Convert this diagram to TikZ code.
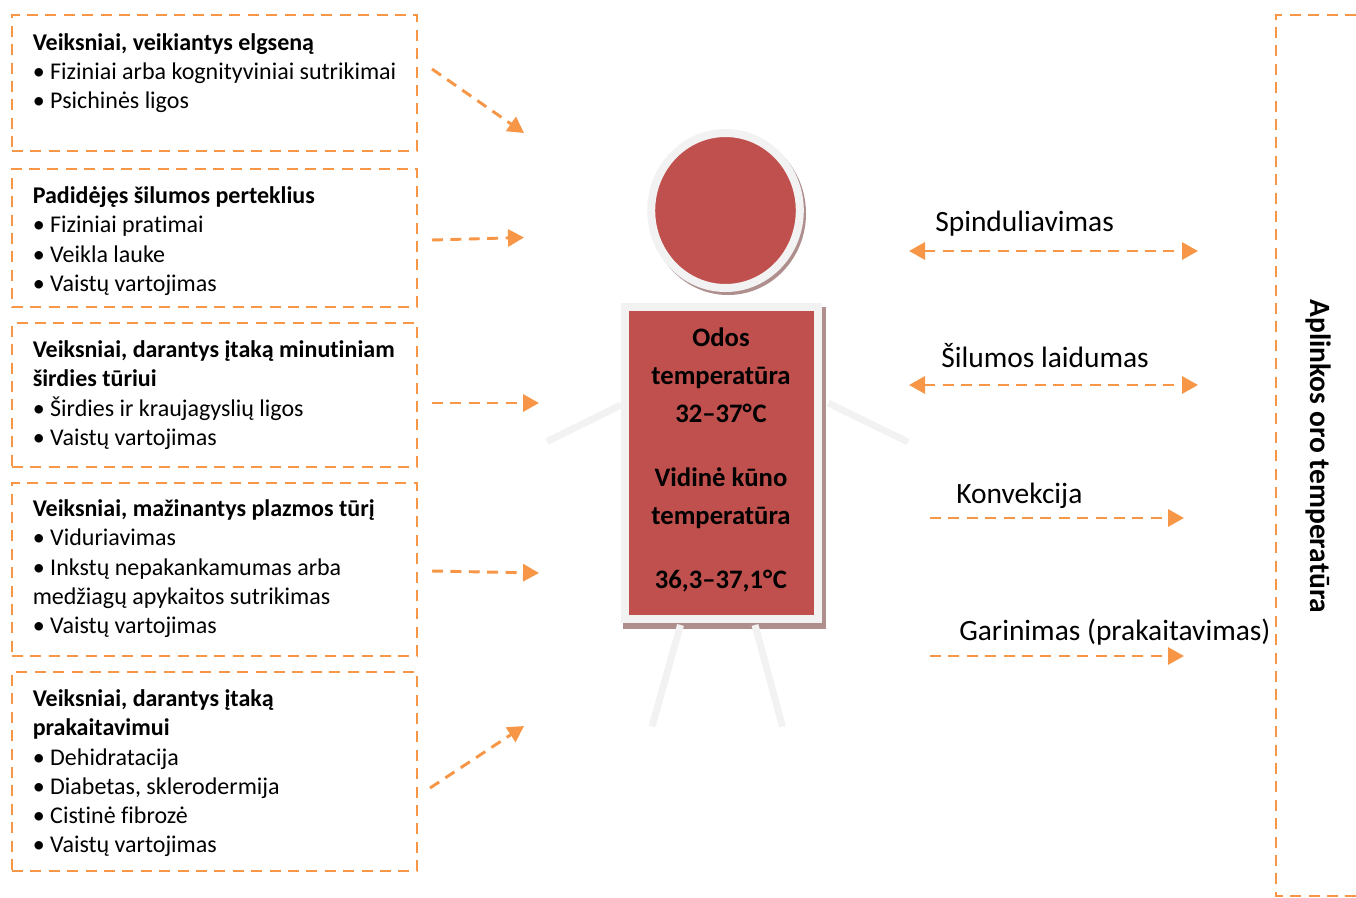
\documentclass[tikz,border=0pt]{standalone}
\usepackage{fontspec}
\setmainfont[RawFeature={-liga;-clig}]{Carlito}
\usetikzlibrary{arrows.meta}
\definecolor{linija}{HTML}{F79646}
\definecolor{kunas}{HTML}{C0504D}
\definecolor{krastas}{HTML}{F2F2F2}
\definecolor{seselis}{HTML}{AE8F8E}
\newcommand{\pt}[1]{\makebox[13.1pt][l]{•}#1}
\newcommand{\laipsn}{°\kern0.6pt C}
\tikzset{
    dashline/.style={draw=linija, line width=2.2pt, dash pattern=on 8.2pt off 5.6pt},
    flow/.style={dashline, -{Triangle[length=12pt,width=12.8pt,fill=linija]}},
    flowboth/.style={dashline, {Triangle[length=12pt,width=12.8pt,fill=linija]}-{Triangle[length=12pt,width=12.8pt,fill=linija]}},
    factorbox/.style={dashline, rectangle, minimum width=303.75pt, inner sep=0pt},
    factortext/.style={anchor=north west, inner sep=0pt, align=left, font=\fontsize{18}{21.9}\selectfont},
    limb/.style={draw=krastas, line width=5.2pt},
    routelabel/.style={anchor=west, inner sep=0pt, font=\fontsize{22.1}{26}\selectfont}
}
\begin{document}
\begin{tikzpicture}[x=0.75pt,y=-0.75pt]
    \useasboundingbox (0,0) rectangle (1356,897);

    % arrow ends
    \coordinate (A1) at (432,69);
    \coordinate (B1) at (524,133);
    \coordinate (A2) at (432,240);
    \coordinate (B2) at (524,237.5);
    \coordinate (A3) at (432,403);
    \coordinate (B3) at (539,403);
    \coordinate (A4) at (432,571);
    \coordinate (B4) at (539,573);
    \coordinate (A5) at (430,788);
    \coordinate (B5) at (524,726);

    \coordinate (C1) at (909,251);
    \coordinate (D1) at (1198,251);
    \coordinate (C2) at (909,385);
    \coordinate (D2) at (1198,385);
    \coordinate (C3) at (930,518);
    \coordinate (D3) at (1184,518);
    \coordinate (C4) at (930,656);
    \coordinate (D4) at (1184,656);

    % left boxes
    \node[factorbox, minimum height=102pt] (box1) at (214.5,83) {};
    \node[factorbox, minimum height=103.5pt] (box2) at (214.5,238) {};
    \node[factorbox, minimum height=108pt] (box3) at (214.5,395) {};
    \node[factorbox, minimum height=129.75pt] (box4) at (214.5,569.5) {};
    \node[factorbox, minimum height=149.25pt] (box5) at (214.5,771.5) {};

    \node[factortext] (text1) at (32.5,33) {\textbf{Veiksniai, veikiantys elgseną}\\\pt{Fiziniai arba kognityviniai sutrikimai}\\\pt{Psichinės ligos}};
    \node[factortext] (text2) at (32.5,186.5) {\textbf{Padidėjęs šilumos perteklius}\\\pt{Fiziniai pratimai}\\\pt{Veikla lauke}\\\pt{Vaistų vartojimas}};
    \node[factortext] (text3) at (32.5,340.5) {\textbf{Veiksniai, darantys įtaką minutiniam}\\\textbf{širdies tūriui}\\\pt{Širdies ir kraujagyslių ligos}\\\pt{Vaistų vartojimas}};
    \node[factortext] (text4) at (32.5,499.5) {\textbf{Veiksniai, mažinantys plazmos tūrį}\\\pt{Viduriavimas}\\\pt{Inkstų nepakankamumas arba}\\medžiagų apykaitos sutrikimas\\\pt{Vaistų vartojimas}};
    \node[factortext] (text5) at (32.5,689.5) {\textbf{Veiksniai, darantys įtaką}\\\textbf{prakaitavimui}\\\pt{Dehidratacija}\\\pt{Diabetas, sklerodermija}\\\pt{Cistinė fibrozė}\\\pt{Vaistų vartojimas}};

    \foreach \i in {1,...,5} {
        \draw[flow] (A\i) -- (B\i);
    }

    % figure
    \fill[seselis] (728,213.5) ellipse (78 and 81.5);
    \draw[draw=krastas, line width=6pt, fill=kunas] (725.5,210.5) ellipse (74.3 and 77.5);
    \fill[seselis] (623,307) rectangle (826,629);
    \node[draw=krastas, line width=6pt, fill=kunas, rectangle, inner sep=0pt, minimum width=144.75pt, minimum height=234pt] (body) at (721.5,463) {};
    \node[inner sep=0pt, align=center, font=\fontsize{20}{28.5}\selectfont\bfseries] (bodytext) at (721,459.5) {Odos\\temperatūra\\32–37\laipsn\\[19.5pt]Vidinė kūno\\temperatūra\\[19.5pt]36,3–37,1\laipsn};

    \draw[limb] (621,405) -- (547,441.5);
    \draw[limb] (828,403) -- (908,442);
    \draw[limb] (680.5,625) -- (652,726.5);
    \draw[limb] (755,625) -- (782.5,726.5);

    % right side
    \node[routelabel] (rad) at (935,223.5) {Spinduliavimas};
    \node[routelabel] (cond) at (941,355.5) {Šilumos laidumas};
    \node[routelabel] (conv) at (956,496) {Konvekcija};
    \node[routelabel] (evap) at (959,632) {Garinimas (prakaitavimas)};

    \draw[flowboth] (C1) -- (D1);
    \draw[flowboth] (C2) -- (D2);
    \draw[flow] (C3) -- (D3);
    \draw[flow] (C4) -- (D4);

    \draw[dashline] (1356,15) -- (1276,15) -- (1276,896) -- (1356,896);
    \node[rotate=-90, inner sep=0pt, font=\fontsize{22.1}{26}\selectfont\bfseries] (air) at (1319,456.5) {Aplinkos oro temperatūra};
\end{tikzpicture}
\end{document}
